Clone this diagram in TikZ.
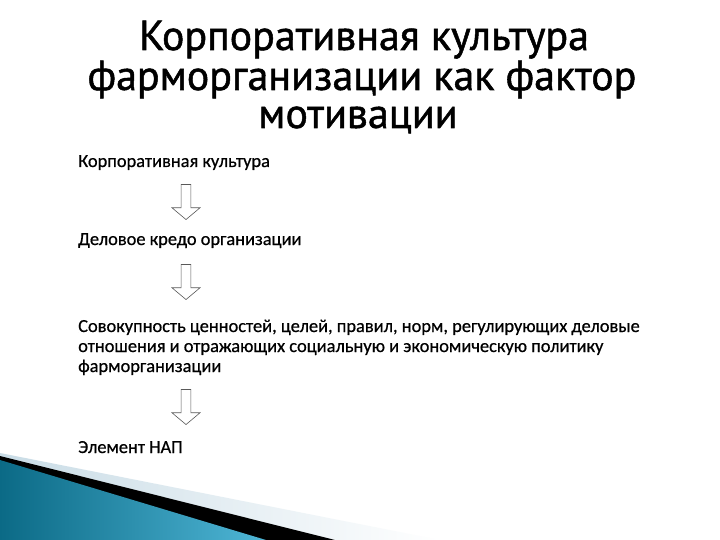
\documentclass[tikz,border=0pt]{standalone}
\usepackage{fontspec}
\setmainfont[FakeBold=0.6]{Carlito}
\newfontfamily\titlefont[FakeBold=1.2]{PT Sans}
\usetikzlibrary{shapes.arrows}
\definecolor{bandlight}{HTML}{C9DCE6}
\definecolor{tealdark}{HTML}{0B6A86}
\definecolor{teallight}{HTML}{4FB6D6}
\tikzset{
  body/.style={anchor=base west, inner sep=0pt, font=\fontsize{18.4}{20}\selectfont, align=left},
  ttl/.style={anchor=base, inner sep=0pt, font=\titlefont\fontsize{42}{40}\selectfont},
  downarrow/.style={draw=black!65, fill=white, line width=0.6pt, single arrow, shape border rotate=270,
    minimum width=28pt, single arrow head extend=9pt, single arrow tip angle=100, minimum height=35pt, inner sep=0pt, text width=9pt}
}
\begin{document}
\begin{tikzpicture}[x=1pt,y=-1pt]
\useasboundingbox (0,0) rectangle (720,540);
\fill[white] (0,0) rectangle (720,540);
% bottom decoration
\shade[left color=bandlight, right color=white] (0,453) -- (440,540) -- (0,540) -- cycle;
\fill[black] (0,456) -- (335,540) -- (0,540) -- cycle;
\shade[left color=tealdark, right color=teallight] (0,460) -- (266,540) -- (0,540) -- cycle;
% title
\node[ttl] (t1) at (364,50) {Корпоративная культура};
\node[ttl] (t2) at (362,90) {фарморганизации как фактор};
\node[ttl] (t3) at (358,128) {мотивации};
% body
\node[body] (a) at (78,167) {Корпоративная культура};
\node[body] (b) at (78,245) {Деловое кредо организации};
\node[body] (c) at (78,372) {Совокупность ценностей, целей, правил, норм, регулирующих деловые\\отношения и отражающих социальную и экономическую политику\\фарморганизации};
\node[body] (d) at (78,453) {Элемент НАП};
% arrows
\node[downarrow] (ar1) at (186,200) {};
\node[downarrow] (ar2) at (186,280) {};
\node[downarrow] (ar3) at (186,405) {};
\end{tikzpicture}
\end{document}
